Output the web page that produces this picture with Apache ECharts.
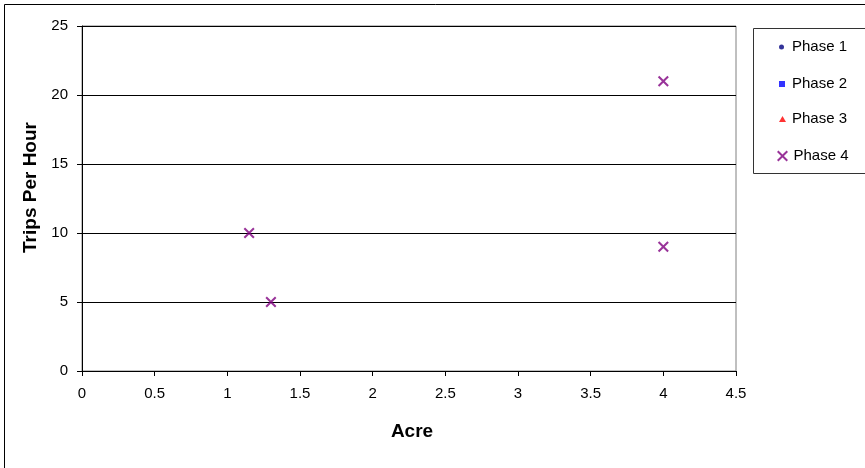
<!DOCTYPE html>
<html>
<head>
<meta charset="utf-8">
<script src="https://cdn.jsdelivr.net/npm/echarts@6/dist/echarts.min.js"></script>
<style>
  html, body { margin: 0; padding: 0; background: #fff; }
  #chart { width: 865px; height: 468px; }
</style>
</head>
<body>
<div id="chart"></div>
<script>
// Series names and their measured points [acre, trips per hour]
const seriesNames = ['Phase 1', 'Phase 2', 'Phase 3', 'Phase 4'];
const phase1 = [];
const phase2 = [];
const phase3 = [];
const phase4 = [[1.15, 10], [1.3, 5], [4, 21], [4, 9]];

const xTicks = { min: 0, max: 4.5, interval: 0.5 };
const yTicks = { min: 0, max: 25, interval: 5 };

// Filled "x" glyph used for the Phase 4 marker
const crossPath = 'path://M0,1.3 L1.3,0 L5,3.7 L8.7,0 L10,1.3 L6.3,5 L10,8.7 L8.7,10 L5,6.3 L1.3,10 L0,8.7 L3.7,5 Z';

const markers = [
  { data: phase1, symbol: 'circle', color: '#000080', icon: 'circle', w: 5, h: 5, left: 779, top: 39, pad: 3 },
  { data: phase2, symbol: 'rect', color: '#0000FF', icon: 'rect', w: 6, h: 6, left: 779, top: 76, pad: 2 },
  { data: phase3, symbol: 'triangle', color: '#FF0000', icon: 'triangle', w: 7, h: 6, left: 779, top: 111, pad: 1 },
  { data: phase4, symbol: crossPath, color: '#800080', icon: crossPath, w: 12, h: 11, left: 777, top: 148, pad: 0 }
];

const font = 'Liberation Sans, Arial, sans-serif';
const tickFont = { fontFamily: font, fontSize: 15, color: '#000' };
const titleFont = { fontFamily: font, fontSize: 19, fontWeight: 'bold', color: '#000' };

const chart = echarts.init(document.getElementById('chart'), null, { renderer: 'canvas' });

chart.setOption({
  animation: false,
  backgroundColor: '#fff',
  grid: {
    left: 82, top: 26, right: 129, bottom: 97,
    show: true, borderColor: '#808080', borderWidth: 1, backgroundColor: 'transparent'
  },
  xAxis: {
    type: 'value',
    min: xTicks.min, max: xTicks.max, interval: xTicks.interval,
    name: 'Acre', nameLocation: 'middle', nameGap: 51,
    nameTextStyle: Object.assign({ padding: [0, 0, 0, 6] }, titleFont),
    axisLine: { show: true, lineStyle: { color: '#000', width: 1 } },
    axisTick: { show: true, length: 5, lineStyle: { color: '#000' } },
    axisLabel: Object.assign({ margin: 15 }, tickFont),
    splitLine: { show: false }
  },
  yAxis: {
    type: 'value',
    min: yTicks.min, max: yTicks.max, interval: yTicks.interval,
    name: 'Trips Per Hour', nameLocation: 'middle', nameGap: 41, nameRotate: 90,
    nameTextStyle: Object.assign({ padding: [0, 0, 0, 22] }, titleFont),
    axisLine: { show: true, lineStyle: { color: '#000', width: 1 } },
    axisTick: { show: true, length: 5, lineStyle: { color: '#000' } },
    axisLabel: Object.assign({ margin: 14 }, tickFont),
    splitLine: { show: true, lineStyle: { color: '#000', width: 1 } }
  },
  legend: markers.map((m, i) => ({
    data: [{ name: seriesNames[i], icon: m.icon, itemStyle: { color: m.color } }],
    orient: 'vertical',
    left: m.left, top: m.top,
    padding: 0,
    itemWidth: m.w, itemHeight: m.h,
    textStyle: { fontFamily: font, fontSize: 15, color: '#000', lineHeight: 16, padding: [0, 0, 0, m.pad] },
    selectedMode: false
  })),
  graphic: [
    {
      type: 'rect', silent: true, z: -1,
      shape: { x: 4.5, y: 4.5, width: 900, height: 500 },
      style: { fill: 'none', stroke: '#000', lineWidth: 1 }
    },
    {
      type: 'rect', silent: true, z: -1,
      shape: { x: 753.5, y: 28.5, width: 200, height: 145 },
      style: { fill: 'none', stroke: '#333', lineWidth: 1 }
    }
  ],
  series: markers.map((m, i) => ({
    name: seriesNames[i],
    type: 'scatter',
    data: m.data,
    symbol: m.symbol,
    symbolSize: i === 3 ? [11, 11] : 6,
    itemStyle: { color: m.color },
    z: 5
  }))
});
</script>
</body>
</html>
